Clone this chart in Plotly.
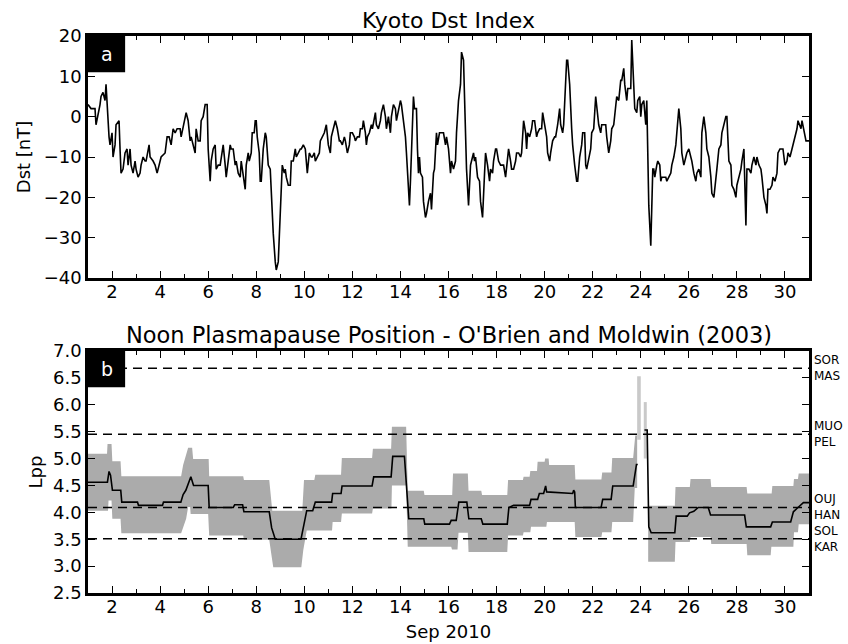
import plotly.graph_objects as go

# ---------------- data ----------------
# Kyoto Dst, hours since 2010-09-01 00:00 UT
dst_hour = [0, 3, 7, 8, 12, 13, 15, 17, 18, 19, 21, 22, 24, 25, 27, 28, 31, 32, 33, 35, 37, 39, 40, 42, 43, 45, 47, 48, 50,
            52, 53, 55, 57, 58, 61, 62, 65, 67, 69, 71, 73, 77, 79, 81, 83, 85, 87, 89, 92, 93, 96, 98, 100, 102, 103, 105,
            107, 108, 110, 112, 113, 115, 117, 119, 120, 122, 123, 125, 127, 128, 130, 132, 133, 135, 137, 138, 140, 142,
            143, 145, 147, 148, 150, 152, 153, 155, 157, 158, 160, 161, 163, 164, 166, 167, 168, 169, 171, 172, 173, 175,
            177, 178, 179, 180, 182, 183, 184, 185, 187, 188, 190, 192, 194, 196, 197, 198, 200, 202, 203, 205, 207, 208,
            210, 212, 213, 215, 217, 218, 219, 221, 223, 224, 226, 227, 229, 231, 232, 234, 236, 238, 239, 240, 242, 243,
            245, 247, 249, 251, 252, 254, 256, 257, 259, 261, 262, 264, 266, 267, 269, 271, 272, 274, 275, 277, 278, 279,
            281, 283, 284, 286, 287, 288, 290, 292, 293, 295, 297, 298, 300, 302, 303, 305, 307, 308, 310, 312, 313, 315,
            317, 318, 320, 321, 322, 324, 325, 326, 328, 329, 330, 331, 332, 334, 335, 337, 338, 340, 342, 343, 345, 346,
            348, 349, 351, 355, 357, 358, 360, 362, 363, 365, 367, 368, 370, 372, 373, 375, 377, 378, 380, 382, 383, 385,
            386, 387, 389, 391, 392, 394, 396, 397, 399, 401, 402, 404, 405, 407, 408, 410, 412, 413, 415, 417, 418, 420,
            422, 423, 425, 427, 428, 430, 432, 433, 435, 437, 438, 439, 441, 443, 444, 446, 448, 449, 451, 453, 454, 456,
            458, 459, 461, 462, 464, 466, 467, 469, 471, 472, 474, 475, 477, 478, 479, 481, 483, 484, 486, 488, 489, 491,
            493, 494, 496, 497, 498, 500, 502, 503, 505, 507, 508, 510, 512, 513, 515, 517, 518, 520, 522, 523, 525, 527,
            528, 530, 532, 533, 535, 536, 538, 539, 541, 542, 543, 544, 546, 548, 549, 551, 552, 553, 555, 557, 558, 559,
            560, 562, 564, 565, 566, 568, 569, 571, 572, 573, 575, 577, 578, 580, 582, 583, 585, 587, 588, 590, 592, 593,
            595, 597, 598, 600, 602, 603, 605, 607, 608, 610, 612, 613, 615, 617, 618, 620, 622, 623, 625, 627, 628, 630,
            632, 633, 637, 638, 640, 642, 643, 645, 647, 648, 650, 652, 653, 655, 657, 658, 660, 662, 663, 665, 667, 668,
            670, 672, 673, 675, 677, 678, 679, 681, 683, 684, 686, 688, 689, 691, 693, 694, 696, 698, 699, 701, 703, 704,
            706, 708, 709, 712, 713, 715, 717, 720]
dst_nT = [3, 2, 2, -2, 3, 5, 6, 4, 8, 3, -5, -7, -4, -10, -7, -2, -1, -8, -14, -13, -9, -8, -12, -8, -12, -14, -11, -13, -15,
          -14, -12, -10, -11, -11, -7, -10, -11, -12, -14, -12, -10, -9, -5, -5, -7, -3, -4, -3, -3, -5, -1, 1, -1, -6, -5, -7,
          -9, -3, -6, -6, -1, 0, 3, 3, -8, -16, -11, -8, -7, -13, -12, -12, -10, -7, -12, -15, -11, -7,
          -8, -8, -12, -11, -14, -15, -11, -15, -18, -12, -9, -11, -9, -4, -4, -1, -1, -5, -9, -16, -16, -8,
          -4, -5, -9, -12, -13, -20, -27, -29, -36, -38, -36, -22, -12, -14, -13, -15, -17, -17, -11, -11, -8, -10,
          -9, -8, -8, -7, -8, -12, -14, -9, -10, -10, -9, -11, -10, -9, -6, -5, -4, -2, -5, -7, -9, -5,
          -3, -1, -3, -6, -6, -7, -5, -6, -9, -7, -4, -4, -5, -6, -5, -5, -3, -3, -1, -4, -7, -5,
          -4, -2, -3, 0, 1, -2, -3, -1, 1, 3, 0, -3, 0, -4, 0, 3, 2, -1, 2, 4, 3, -1,
          -5, -9, -16, -22, -16, -1, 5, 2, 2, -8, -14, -10, -14, -15, -21, -25, -24, -21, -19, -23, -14, -13,
          -4, -7, -4, -4, -7, -5, -8, -14, -11, -13, -11, -4, 4, 8, 16, 14, -1, -13, -22, -12, -11, -9,
          -11, -10, -15, -16, -21, -25, -14, -9, -12, -16, -13, -14, -11, -8, -8, -11, -12, -12, -12, -15, -12, -8,
          -11, -13, -13, -11, -9, -9, -10, -9, -1, -4, -8, -4, -5, -3, -1, -1, -5, -4, -3, -3, 1, -2,
          -5, -9, -11, -9, -6, -5, -5, -2, 2, -2, -4, -2, 7, 14, 14, 8, -3, -7, -12, -16, -16, -10,
          -7, -4, -4, -12, -13, -10, -8, -4, -3, 5, 2, -2, -4, -2, -2, -2, -5, -9, -6, -3, -2, 3,
          5, 4, 9, 9, 12, 8, 4, 7, 7, 7, 19, 12, 2, 1, 4, 5, 0, 3, 4, -2, 4, -9,
          -22, -32, -13, -13, -15, -12, -11, -12, -16, -15, -15, -15, -16, -15, -14, -12, -10, -7, -3, 2, -3, -9,
          -12, -10, -9, -8, -10, -11, -14, -16, -14, -13, -15, -4, 0, -4, -8, -10, -15, -19, -20, -16, -13, -8,
          -7, -4, 0, 0, -11, -12, -17, -18, -20, -17, -15, -13, -11, -8, -27, -13, -13, -14, -12, -10, -12, -10,
          -12, -13, -15, -20, -22, -24, -18, -18, -17, -15, -16, -14, -9, -8, -8, -8, -12, -11, -9, -10, -8, -7,
          -5, -3, -1, -3, -1, -4, -6, -6]

# O'Brien & Moldwin (2003) noon plasmapause Lpp (None = data gap)
lpp_hour = [0, 19.4, 21, 22.5, 24.4, 32.7, 33.7, 49.4, 50.4, 74.4, 75.4, 92.7, 95, 97.7, 102.7, 105.4, 120, 121, 145,
            146.5, 154.4, 155.7, 181, 183.4, 187, 212.7, 218.4, 224.4, 227, 243.3, 244.3, 252.7, 253.7, 283.7, 285.3,
            302.7, 304.3, 316, 320.3, 335.3, 336.3, 361, 362.7, 367.7, 370.3, 378.3, 380.3, 392.7, 394.3, 418.7, 420.3,
            425, 441, 442.4, 449, 450.7, 455, 457, 458, 484, 485, 486, 486.7, 512.4, 514, 522.4, 524, 544.4, 547.7,
            549, 552, 555.7, 558.4, 560, 562.4, 586, 587.4, 598.4, 600.7, 605, 609.4, 619.4, 621.7, 655.7, 657.4,
            681.7, 683.4, 701.7, 704.4, 709, 714.4, 720]
lpp_val = [4.56, 4.56, 4.76, 4.69, 4.41, 4.41, 4.19, 4.19, 4.13, 4.13, 4.19, 4.19, 4.33, 4.41, 4.66, 4.50, 4.50, 4.09,
           4.09, 4.14, 4.14, 4.01, 4.01, 3.71, 3.50, 3.50, 4.03, 4.03, 4.19, 4.19, 4.35, 4.35, 4.49, 4.49, 4.66, 4.66,
           5.04, 5.04, 3.88, 3.88, 3.78, 3.78, 3.85, 3.85, 4.19, 4.19, 3.88, 3.88, 3.78, 3.78, 4.09, 4.13, 4.13, 4.24,
           4.24, 4.35, 4.35, 4.49, 4.38, 4.35, 4.41, 4.38, 4.09, 4.09, 4.24, 4.24, 4.49, 4.49, 4.89, 4.89, None, 5.53,
           5.53, 3.73, 3.62, 3.62, 3.93, 3.93, 3.99, 4.02, 4.09, 4.09, 3.95, 3.95, 3.73, 3.73, 3.82, 3.82, 4.01, 4.09,
           4.18, 4.18]

# uncertainty band (upper / lower bounds), two segments
band1_up_hour = [0, 19, 19.5, 23.5, 24.3, 32.5, 33.3, 93, 95, 97, 100, 104, 105, 120.5, 121, 155, 155.7, 181, 184, 214,
                 215.7, 226, 227, 252.7, 253.5, 283.7, 284.5, 302.7, 303.5, 317.7, 319.3, 335.3, 336, 363.7, 364.5,
                 379.3, 380, 392.7, 393.5, 418.7, 419.5, 434.3, 435, 441, 441.7, 448.4, 449, 456, 456.5, 460, 460.5,
                 486, 486.7, 512.7, 513.5, 522.7, 523.5, 544.4, 545.5, 546.5, 548.4]
band1_up_val = [5.09, 5.09, 5.27, 5.27, 4.95, 4.95, 4.67, 4.67, 4.88, 5.01, 5.20, 5.20, 4.99, 4.99, 4.67, 4.67, 4.60,
                4.60, 4.03, 4.03, 4.60, 4.60, 4.70, 4.70, 5.01, 5.01, 5.18, 5.18, 5.59, 5.59, 4.40, 4.40, 4.32, 4.32,
                4.72, 4.72, 4.40, 4.40, 4.32, 4.32, 4.60, 4.60, 4.66, 4.66, 4.77, 4.77, 4.94, 4.94, 5.00, 5.00, 4.88,
                4.88, 4.61, 4.61, 4.74, 4.74, 5.01, 5.01, 5.20, 5.43, 5.43]
band1_lo_hour = [0, 20, 20.5, 23.5, 24.3, 32.5, 33.3, 93, 95, 98, 100, 102, 102.5, 120, 121, 155, 155.7, 181, 183, 185,
                 213, 215, 218.4, 243.7, 244.3, 252.7, 253.5, 283.7, 284.5, 303, 303.5, 317.7, 319.3, 362.7, 363.5,
                 369, 370, 379.3, 380, 418.7, 419.5, 434.3, 435, 441.7, 442.4, 457.7, 458.3, 486, 486.7, 512.7, 513.5,
                 522.7, 523.5, 544.4, 546, 548.4]
band1_lo_val = [4.03, 4.03, 4.22, 4.22, 3.88, 3.88, 3.61, 3.61, 3.72, 3.88, 4.10, 4.10, 3.97, 3.97, 3.57, 3.57, 3.49,
                3.49, 3.23, 2.98, 2.98, 3.30, 3.66, 3.66, 3.82, 3.82, 3.98, 3.98, 4.07, 4.07, 4.50, 4.50, 3.36, 3.36,
                3.31, 3.31, 3.62, 3.62, 3.26, 3.26, 3.57, 3.57, 3.63, 3.63, 3.73, 3.73, 3.82, 3.82, 3.54, 3.54, 3.63,
                3.63, 3.82, 3.82, 4.45, 4.45]
band2_up_hour = [559.4, 586, 586.7, 601, 601.7, 621.7, 622.4, 657.7, 658.4, 682.7, 683.4, 704.4, 705, 709, 709.7, 720]
band2_up_val = [4.12, 4.12, 4.47, 4.47, 4.62, 4.62, 4.47, 4.47, 4.35, 4.35, 4.49, 4.49, 4.62, 4.62, 4.72, 4.72]
band2_lo_hour = [559.4, 586, 586.7, 601, 601.7, 621.7, 622.4, 657.7, 658.4, 681.7, 682.4, 704.4, 705, 709, 709.7, 720]
band2_lo_val = [3.08, 3.08, 3.45, 3.45, 3.54, 3.54, 3.41, 3.41, 3.20, 3.20, 3.36, 3.36, 3.63, 3.63, 3.78, 3.78]

# short-lived excursions on 24 Sep (lighter grey)
spike_start = [548.4, 555.0]
spike_end = [552.0, 558.0]
spike_low = [5.35, 5.00]
spike_high = [6.53, 6.05]

# magnetometer station L-shells
station_L = [6.68, 5.45, 4.09, 3.51]
station_text = ["SOR<br>MAS", "MUO<br>PEL", "OUJ<br>HAN", "SOL<br>KAR"]

x_ticks = list(range(2, 31, 2))
dst_ticks = [-40, -30, -20, -10, 0, 10, 20]
lpp_ticks = [2.5, 3.0, 3.5, 4.0, 4.5, 5.0, 5.5, 6.0, 6.5, 7.0]


def day(hours):
    return [None if h is None else 1 + h / 24.0 for h in hours]


FONT = "DejaVu Sans"
BAND = "#ababab"
SPIKE = "#c9c9c9"

fig = go.Figure()

# panel a
fig.add_trace(go.Scatter(x=day(dst_hour), y=dst_nT, mode="lines",
                         line=dict(color="black", width=1.6), xaxis="x", yaxis="y",
                         showlegend=False, hoverinfo="skip"))

# panel b band
for uh, uv, lh, lv in [(band1_up_hour, band1_up_val, band1_lo_hour, band1_lo_val),
                       (band2_up_hour, band2_up_val, band2_lo_hour, band2_lo_val)]:
    fig.add_trace(go.Scatter(x=day(uh) + day(lh[::-1]), y=uv + lv[::-1], mode="lines",
                             fill="toself", fillcolor=BAND, line=dict(width=0, color=BAND),
                             xaxis="x2", yaxis="y2", showlegend=False, hoverinfo="skip"))
for s, e, lo, hi in zip(spike_start, spike_end, spike_low, spike_high):
    fig.add_trace(go.Scatter(x=day([s, e, e, s]), y=[lo, lo, hi, hi], mode="lines",
                             fill="toself", fillcolor=SPIKE, line=dict(width=0, color=SPIKE),
                             xaxis="x2", yaxis="y2", showlegend=False, hoverinfo="skip"))

fig.add_trace(go.Scatter(x=day(lpp_hour), y=lpp_val, mode="lines", connectgaps=False,
                         line=dict(color="black", width=1.6), xaxis="x2", yaxis="y2",
                         showlegend=False, hoverinfo="skip"))

shapes = []
annotations = []
for L, txt in zip(station_L, station_text):
    shapes.append(dict(type="line", xref="x2 domain", yref="y2", x0=0, x1=1, y0=L, y1=L,
                       line=dict(color="black", width=1.5, dash="9px,6px"), layer="above"))
    annotations.append(dict(xref="x2 domain", yref="y2", x=1, y=L, xanchor="left", yanchor="middle",
                            xshift=3, text=txt, showarrow=False, align="left",
                            font=dict(family=FONT, size=12, color="black")))

# panel letters
for xr, yr, letter in [("x domain", "y domain", "a"), ("x2 domain", "y2 domain", "b")]:
    shapes.append(dict(type="rect", xref=xr, yref=yr, x0=0, x1=0.0515, y0=0.85, y1=1,
                       fillcolor="black", line=dict(width=0), layer="above"))
    annotations.append(dict(xref=xr, yref=yr, x=0.0257, y=0.925, text=letter, showarrow=False,
                            xanchor="center", yanchor="middle",
                            font=dict(family=FONT, size=19, color="white")))

# titles
annotations.append(dict(xref="x domain", yref="y domain", x=0.5, y=1, yanchor="bottom", yshift=1,
                        text="Kyoto Dst Index", showarrow=False,
                        font=dict(family=FONT, size=22, color="black")))
annotations.append(dict(xref="x2 domain", yref="y2 domain", x=0.5, y=1, yanchor="bottom", yshift=1,
                        text="Noon Plasmapause Position - O'Brien and Moldwin (2003)", showarrow=False,
                        font=dict(family=FONT, size=22.5, color="black")))

axis_common = dict(showline=True, linecolor="black", linewidth=2.5, mirror="allticks",
                   ticks="inside", ticklen=7, tickwidth=1.2, tickcolor="black",
                   showgrid=False, zeroline=False, automargin=False,
                   tickfont=dict(family=FONT, size=18, color="black"))
x_common = dict(axis_common, range=[1, 31], tickmode="array", tickvals=x_ticks,
                ticktext=[str(t) for t in x_ticks], ticklabelstandoff=-4,
                minor=dict(tickmode="array", tickvals=list(range(1, 32, 2)), ticks="inside",
                           ticklen=4, tickwidth=1.2, tickcolor="black", showgrid=False))

fig.update_layout(
    width=848, height=644,
    margin=dict(l=88, r=39, t=36, b=51),
    paper_bgcolor="white", plot_bgcolor="white",
    showlegend=False,
    xaxis=dict(x_common, anchor="y", domain=[0, 1]),
    yaxis=dict(axis_common, anchor="x", domain=[0.5655, 1], range=[-40, 20],
               tickmode="array", tickvals=dst_ticks,
               title=dict(text="Dst [nT]", font=dict(family=FONT, size=18, color="black"), standoff=9)),
    xaxis2=dict(x_common, anchor="y2", domain=[0, 1],
                title=dict(text="Sep 2010", font=dict(family=FONT, size=18, color="black"), standoff=10)),
    yaxis2=dict(axis_common, anchor="x2", domain=[0, 0.4345], range=[2.5, 7.0],
                tickmode="array", tickvals=lpp_ticks, ticktext=[f"{t:.1f}" for t in lpp_ticks],
                title=dict(text="Lpp", font=dict(family=FONT, size=18, color="black"), standoff=6)),
    shapes=shapes,
    annotations=annotations,
)

fig.write_html("out.html")
